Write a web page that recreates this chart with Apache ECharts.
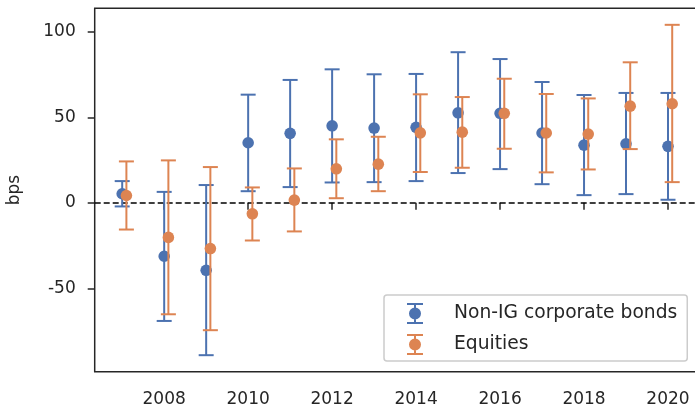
<!DOCTYPE html>
<html><head><meta charset="utf-8">
<script src="https://cdn.jsdelivr.net/npm/echarts@6/dist/echarts.min.js"></script>
<style>html,body{margin:0;padding:0;background:#fff}#c{width:695px;height:407px}</style>
</head><body><div id="c"></div>
<script>
const years = [2007,2008,2009,2010,2011,2012,2013,2014,2015,2016,2017,2018,2019,2020];
const bondMean = [5.3,-31.2,-39.4,35.1,40.6,45.0,43.7,44.1,52.6,52.3,40.8,33.7,34.5,33.0];
const bondLow  = [-2.1,-69.0,-89.0,6.8,9.2,11.9,12.1,12.7,17.4,19.7,10.9,4.5,5.1,1.8];
const bondHigh = [12.7,6.4,10.4,63.2,71.8,78.0,75.1,75.3,88.0,84.0,70.6,63.0,64.2,64.2];
const eqMean = [4.3,-20.2,-26.7,-6.4,1.6,19.9,22.6,40.9,41.3,52.3,40.8,40.2,56.5,57.9];
const eqLow  = [-15.6,-65.1,-74.4,-22.0,-16.7,2.7,6.8,18.0,20.5,31.6,17.8,19.5,31.4,12.1];
const eqHigh = [24.2,24.8,20.9,9.0,20.1,37.1,38.6,63.4,61.8,72.5,63.6,61.0,82.1,104.0];
const xTicks = [2008,2010,2012,2014,2016,2018,2020];
const yTicks = [-50,0,50,100];
const seriesNames = ['Non-IG corporate bonds','Equities'];

const BLUE = '#4C72B0', ORANGE = '#DD8452';
const FONT = 'DejaVu Sans';
const eqOffset = 0.1;

function buildData(means, lows, highs, off){
  return years.map((y,i)=>[y+off, means[i], lows[i], highs[i]]);
}
function renderer(color){
  return function(params, api){
    const x = api.value(0);
    const pm = api.coord([x, api.value(1)]);
    const pl = api.coord([x, api.value(2)]);
    const ph = api.coord([x, api.value(3)]);
    const cap = 7.5;
    const ls = {stroke: color, lineWidth: 2};
    return {type:'group', children:[
      {type:'line', shape:{x1:pl[0],y1:pl[1],x2:ph[0],y2:ph[1]}, style:ls},
      {type:'line', shape:{x1:pl[0]-cap,y1:pl[1],x2:pl[0]+cap,y2:pl[1]}, style:ls},
      {type:'line', shape:{x1:ph[0]-cap,y1:ph[1],x2:ph[0]+cap,y2:ph[1]}, style:ls},
      {type:'circle', shape:{cx:pm[0],cy:pm[1],r:5.8}, style:{fill:color}}
    ]};
  };
}
const iconPath = 'path://M0,0H16V2H0Z M0,19H16V21H0Z M7,0H9V21H7Z M2,10.5A6,6 0 1,1 14,10.5A6,6 0 1,1 2,10.5Z';

const chart = echarts.init(document.getElementById('c'), null, {renderer:'canvas'});
chart.setOption({
  animation:false,
  backgroundColor:'#ffffff',
  grid:{left:94.7, top:8.3, width:605, height:363.4, outerBoundsMode:'none', containLabel:false,
    show:true, borderColor:'#262626', borderWidth:1.5, backgroundColor:'transparent'},
  xAxis:{type:'value', min:2006.345, max:2020.755,
    axisLine:{show:false},
    splitLine:{show:false},
    axisTick:{show:true, length:7, customValues:xTicks, lineStyle:{color:'#262626', width:1.5}},
    axisLabel:{customValues:xTicks, margin:19, color:'#262626', fontSize:17, fontFamily:FONT, formatter:v=>String(v)}
  },
  yAxis:{type:'value', min:-98.65, max:113.65,
    name:'bps', nameLocation:'middle', nameGap:72, nameRotate:90,
    nameTextStyle:{color:'#262626', fontSize:17, fontFamily:FONT},
    axisLine:{show:false},
    splitLine:{show:false},
    axisTick:{show:true, length:7, customValues:yTicks, lineStyle:{color:'#262626', width:1.5}},
    axisLabel:{customValues:yTicks, margin:19, color:'#262626', fontSize:17, fontFamily:FONT}
  },
  legend:{orient:'vertical', left:384, top:295, padding:[8,10,6,23],
    itemWidth:16, itemHeight:21, itemGap:10,
    backgroundColor:'#ffffff', borderColor:'#cccccc', borderWidth:1.5, borderRadius:3,
    textStyle:{color:'#262626', fontSize:18.7, fontFamily:FONT, padding:[0,0,0,26]},
    data:[
      {name:seriesNames[0], icon:iconPath, itemStyle:{color:BLUE}},
      {name:seriesNames[1], icon:iconPath, itemStyle:{color:ORANGE}}
    ]
  },
  series:[
    {name:seriesNames[0], type:'custom', z:3, itemStyle:{color:BLUE},
     renderItem:renderer(BLUE), data:buildData(bondMean,bondLow,bondHigh,0),
     markLine:{silent:true, symbol:['none','none'], label:{show:false}, z:1,
       lineStyle:{color:'#000', type:[6,3], width:1.5}, data:[{yAxis:0}]}},
    {name:seriesNames[1], type:'custom', z:4, itemStyle:{color:ORANGE},
     renderItem:renderer(ORANGE), data:buildData(eqMean,eqLow,eqHigh,eqOffset)}
  ]
});
</script></body></html>
